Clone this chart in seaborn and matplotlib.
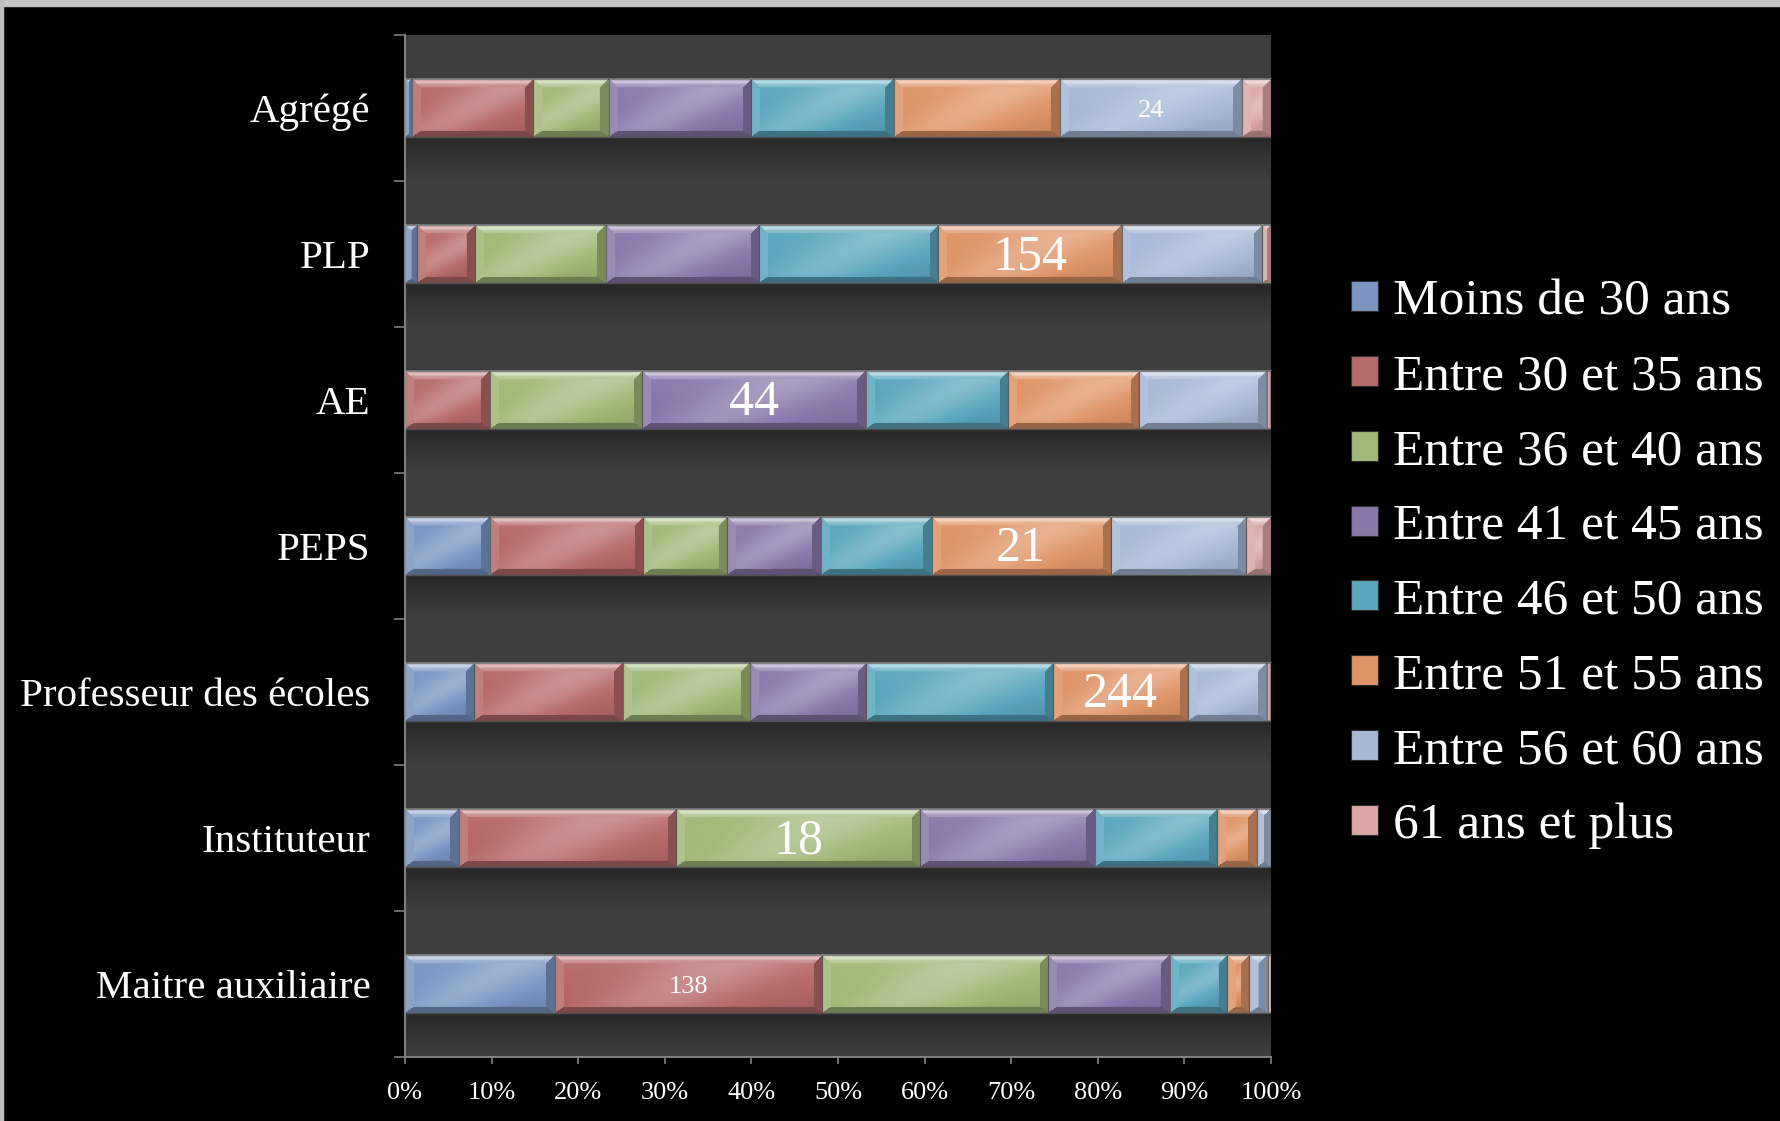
import numpy as np
import pandas as pd
import matplotlib
matplotlib.use("Agg")
import matplotlib.pyplot as plt
import seaborn as sns
from matplotlib.patches import Patch, Rectangle

# ---------------- data (percent of each category) ----------------
categories = ["Agrégé", "PLP", "AE", "PEPS", "Professeur des écoles",
              "Instituteur", "Maitre auxiliaire"]
age_groups = ["Moins de 30 ans", "Entre 30 et 35 ans", "Entre 36 et 40 ans",
              "Entre 41 et 45 ans", "Entre 46 et 50 ans", "Entre 51 et 55 ans",
              "Entre 56 et 60 ans", "61 ans et plus"]
moins_30    = [0.8, 1.4, 0.0, 9.8, 8.0, 6.2, 17.3]
entre_30_35 = [14.0, 6.7, 9.8, 17.7, 17.2, 25.1, 30.9]
entre_36_40 = [8.7, 15.1, 17.6, 9.7, 14.6, 28.2, 26.1]
entre_41_45 = [16.5, 17.7, 25.8, 10.8, 13.4, 20.2, 14.0]
entre_46_50 = [16.5, 20.7, 16.4, 12.8, 21.6, 14.1, 6.6]
entre_51_55 = [19.1, 21.2, 15.2, 20.7, 15.6, 4.6, 2.6]
entre_56_60 = [21.0, 16.2, 14.7, 15.6, 9.1, 1.6, 2.1]
plus_61     = [3.4, 1.0, 0.5, 2.9, 0.5, 0.0, 0.4]

# one data label per bar: text and the age group it sits on
label_texts = ["24", "154", "44", "21", "244", "18", "138"]
label_group = ["Entre 56 et 60 ans", "Entre 51 et 55 ans", "Entre 41 et 45 ans",
               "Entre 51 et 55 ans", "Entre 51 et 55 ans", "Entre 36 et 40 ans",
               "Entre 30 et 35 ans"]
x_ticks = [0, 10, 20, 30, 40, 50, 60, 70, 80, 90, 100]

df = pd.DataFrame({"cat": categories})
for g, v in zip(age_groups, [moins_30, entre_30_35, entre_36_40, entre_41_45,
                             entre_46_50, entre_51_55, entre_56_60, plus_61]):
    df[g] = v
cum = df[age_groups].cumsum(axis=1)
start = cum - df[age_groups]

# ---------------- style ----------------
colors = ["#7a95c2", "#b66a69", "#a1b878", "#8a78ab",
          "#5aa6bd", "#df9468", "#a6b8d6", "#dba7a5"]
label_sizes = [19, 36, 36, 36, 36, 36, 19]
BAR_W = 0.4

sns.set_style("dark")
plt.rcParams["font.family"] = ["Liberation Serif", "DejaVu Serif"]

W_PX, H_PX = 1780, 1121
fig = plt.figure(figsize=(W_PX / 100, H_PX / 100), dpi=100, facecolor="black")
ax = fig.add_axes([405 / W_PX, 1 - 1057 / H_PX, (1271 - 405) / W_PX, (1057 - 35) / H_PX])
ax.set_facecolor("#3e3e3e")

# stacked bars: draw cumulative totals from the last group to the first
for j in reversed(range(len(age_groups))):
    sns.barplot(x=cum[age_groups[j]].values, y=categories, order=categories,
                orient="h", color=colors[j], saturation=1, width=BAR_W,
                errorbar=None, edgecolor="#505050", linewidth=0.8, ax=ax,
                zorder=2)

ax.set_xlim(0, 100)
ax.set_ylim(len(categories) - 0.5, -0.5)


def bevel_overlay(w, h):
    w = max(int(round(w)), 1)
    h = max(int(round(h)), 1)
    yy = np.arange(h)[:, None] + 0.5 + np.zeros((1, w))
    xx = np.arange(w)[None, :] + 0.5 + np.zeros((h, 1))
    dt, db, dl, dr = yy, h - yy, xx, w - xx
    b = 9.0
    L = 0.06 - 0.16 * (yy / h)
    # diagonal sheen
    L += 0.26 * np.exp(-(((xx - 0.5 * w) + (yy - h / 2) * 1.8) / (0.22 * w + 14)) ** 2)
    stack = np.stack([dt, db * 1.4, dl, dr])
    m = stack.min(axis=0)
    reg = stack.argmin(axis=0)
    inb = m < b
    L = np.where(inb & (reg == 0), 0.25 + 0.35 * np.exp(-((dt - 4) / 1.8) ** 2), L)
    L = np.where(inb & (reg == 1), -0.32, L)
    L = np.where(inb & (reg == 2), 0.14, L)
    L = np.where(inb & (reg == 3), -0.24, L)
    rgba = np.zeros((h, w, 4))
    rgba[..., :3] = np.where(L[..., None] > 0, 1.0, 0.0)
    rgba[..., 3] = np.clip(np.abs(L), 0, 1)
    return rgba


fig.canvas.draw()
for i, cat in enumerate(categories):
    # soft shadow below bar
    sh = np.zeros((40, 2, 4))
    sh[..., 3] = np.linspace(0.35, 0.0, 40)[:, None]
    ax.imshow(sh, extent=(0, 100, i + 0.5, i + BAR_W / 2), origin="upper",
              aspect="auto", zorder=1, interpolation="bilinear")
    for j, g in enumerate(age_groups):
        l = start.loc[i, g]
        r = cum.loc[i, g]
        if r - l <= 0:
            continue
        p0 = ax.transData.transform((l, i - BAR_W / 2))
        p1 = ax.transData.transform((r, i + BAR_W / 2))
        ov = bevel_overlay(abs(p1[0] - p0[0]), abs(p1[1] - p0[1]))
        ax.imshow(ov, extent=(l, r, i + BAR_W / 2, i - BAR_W / 2),
                  origin="upper", aspect="auto", zorder=3,
                  interpolation="bilinear")
    g = label_group[i]
    xc = (start.loc[i, g] + cum.loc[i, g]) / 2
    ax.text(xc, i + 0.02, label_texts[i], ha="center", va="center", color="white",
            fontsize=label_sizes[i], zorder=5)

ax.set_xlim(0, 100)
ax.set_ylim(len(categories) - 0.5, -0.5)

# axes decoration
ax.set_xlabel("")
ax.set_ylabel("")
ax.grid(False)
ax.set_xticks(x_ticks)
ax.set_xticklabels([f"{t}%" for t in x_ticks])
ax.set_yticks(range(len(categories)))
ax.set_yticklabels(categories)
ax.set_yticks(np.arange(-0.5, len(categories)), minor=True)
ax.tick_params(axis="y", which="major", length=0, pad=25, labelsize=29.5,
               labelcolor="white")
ax.tick_params(axis="y", which="minor", length=8, width=1.2, color="#7f7f7f",
               direction="out", left=True)
ax.tick_params(axis="x", which="major", length=5, width=1.2, color="#7f7f7f",
               direction="out", bottom=True, pad=13, labelsize=19,
               labelcolor="white")
for s in ["top", "right"]:
    ax.spines[s].set_visible(False)
for s in ["left", "bottom"]:
    ax.spines[s].set_visible(True)
    ax.spines[s].set_color("#7f7f7f")
    ax.spines[s].set_linewidth(1.5)

# legend
handles = [Patch(facecolor=c, edgecolor="#303030", linewidth=0.8) for c in colors]
fig.legend(handles, age_groups, loc="upper left",
           bbox_to_anchor=(1351 / W_PX, 1 - 279 / H_PX), frameon=False,
           fontsize=37, labelcolor="white", handlelength=0.52,
           handleheight=0.52, handletextpad=0.3, labelspacing=0.55,
           borderpad=0, borderaxespad=0)

# thin light frame at the top / left edges of the image
fig.patches.append(Rectangle((0, 1 - 6 / H_PX), 1, 6 / H_PX,
                             transform=fig.transFigure, color="#c4c4c4", zorder=10))
fig.patches.append(Rectangle((0, 0), 3 / W_PX, 1, transform=fig.transFigure,
                             color="#bdbdbd", zorder=10))

fig.savefig("out.png", dpi=100, facecolor="black")
